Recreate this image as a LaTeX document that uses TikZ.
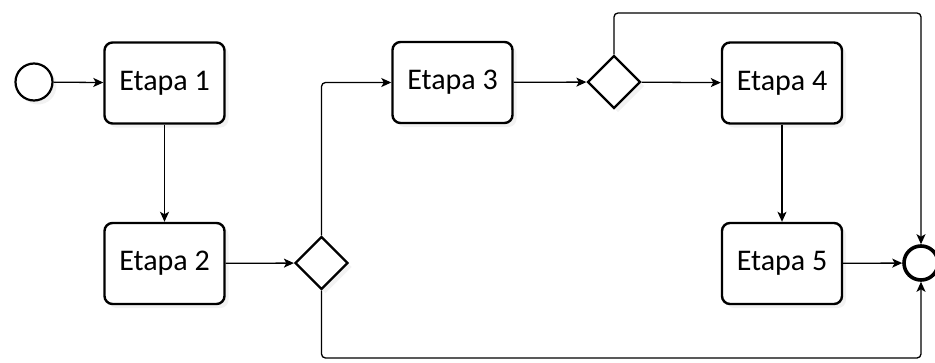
\documentclass[tikz,border=0pt]{standalone}
\usepackage{fontspec}
\setmainfont{Carlito}
\usetikzlibrary{shapes.geometric,arrows.meta,shadows}
\begin{document}
\begin{tikzpicture}[x=1pt,y=-1pt,
  task/.style={draw, line width=2.4pt, rounded corners=8pt, minimum width=120pt, minimum height=81pt,
    inner sep=0pt, fill=white, font=\fontsize{30}{32}\selectfont,
    drop shadow={opacity=0.10, shadow xshift=4pt, shadow yshift=-4pt}},
  gate/.style={diamond, draw, line width=2.4pt, minimum width=53pt, minimum height=53pt, inner sep=0pt,
    fill=white, drop shadow={opacity=0.10, shadow xshift=4pt, shadow yshift=-4pt}},
  startev/.style={circle, draw, line width=2.2pt, minimum size=37pt, inner sep=0pt, fill=white,
    drop shadow={opacity=0.10, shadow xshift=4pt, shadow yshift=-4pt}},
  endev/.style={circle, draw, line width=3.6pt, minimum size=34pt, inner sep=0pt, fill=white},
  flow/.style={line width=1.3pt, rounded corners=4pt, -{Stealth[length=10pt,width=9pt,inset=2.5pt]}}]
\useasboundingbox (0,0) rectangle (935,362);
\node[startev] (s) at (34,82) {};
\node[task] (e1) at (164.5,83) {Etapa 1};
\node[task] (e2) at (164.5,263.5) {Etapa 2};
\node[gate] (g1) at (321.5,263) {};
\node[task] (e3) at (452.5,82.5) {Etapa 3};
\node[gate] (g2) at (614,82) {};
\node[task] (e4) at (782,83) {Etapa 4};
\node[task] (e5) at (782,263.5) {Etapa 5};
\node[endev] (end) at (921,263) {};
\coordinate (top) at (614,13);
\coordinate (bot) at (321.5,358);
\draw[flow] (s) -- (e1);
\draw[flow] (e1) -- (e2);
\draw[flow] (e2) -- (g1);
\draw[flow] (g1.north) |- (e3.west);
\draw[flow] (e3) -- (g2);
\draw[flow] (g2) -- (e4);
\draw[flow] (e4) -- (e5);
\draw[flow] (e5) -- (end);
\draw[flow] (g2.north) -- (top) -| (end.north);
\draw[flow] (g1.south) -- (bot) -| (end.south);
\end{tikzpicture}
\end{document}
